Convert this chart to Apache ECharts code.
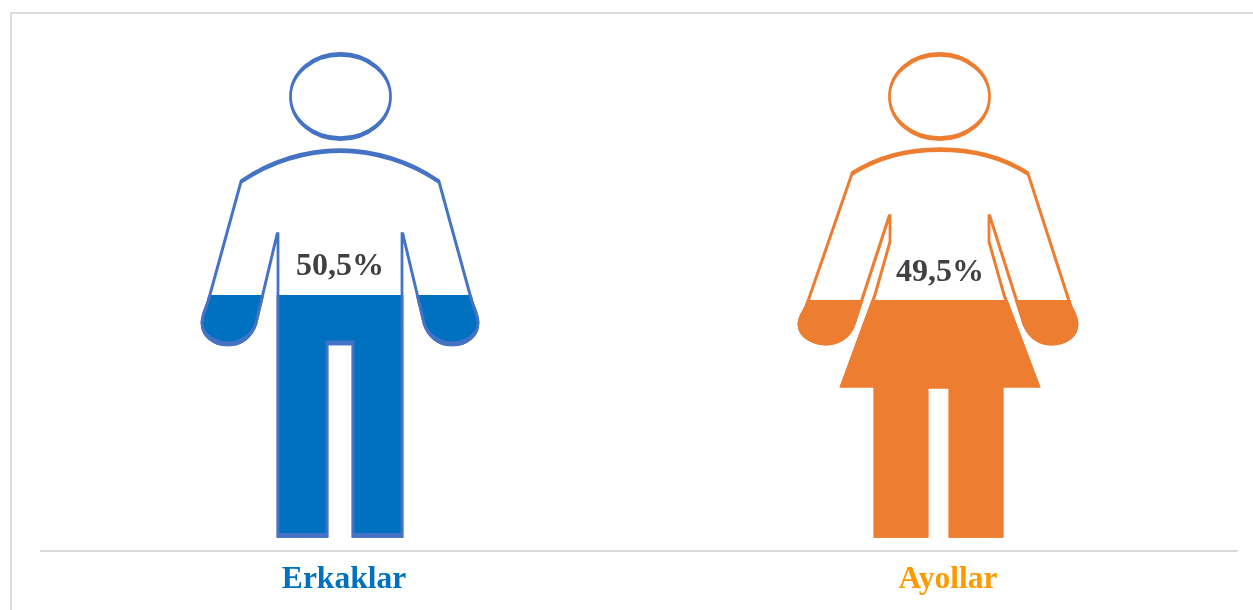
<!DOCTYPE html>
<html>
<head>
<meta charset="utf-8">
<style>
  html, body { margin: 0; padding: 0; background: #fff; }
  #main { width: 1253px; height: 610px; }
</style>
<script src="https://cdn.jsdelivr.net/npm/echarts@6/dist/echarts.min.js"></script>
</head>
<body>
<div id="main"></div>
<script>
var categories = ['Erkaklar', 'Ayollar'];
var shareValues = [50.5, 49.5];
var fullValue = 100;
var shareLabels = ['50,5%', '49,5%'];

var manPath = 'path://M340.5 58C368 58 390.5 76.5 390.5 100C390.5 123.5 368 142 340.5 142C313 142 290.5 123.5 290.5 100C290.5 76.5 313 58 340.5 58Z' +
  'M340 154C375 154 410 165 439 185L472 305C475 314 478 319 478 326C478 338 466 347 452 347C438 347 428 338 424 326L403 238L402 238L402 538L353 538L353 346L327 346L327 538L278 538L278 238L277 238L256 326C252 338 242 347 228 347C214 347 202 338 202 326C202 319 205 314 208 305L241 185C270 165 305 154 340 154Z';

var womanPath = 'path://M939.5 58C967 58 989.5 76.5 989.5 100C989.5 123.5 967 142 939.5 142C912 142 889.5 123.5 889.5 100C889.5 76.5 912 58 939.5 58Z' +
  'M940 153C975 153 1005 162 1028 177L1071 310C1074 317 1077 321 1077 327C1077 338 1066 346 1052 346C1038 346 1029 338 1024 327L990 220L989 220L989 245L1004 298L1038 388L1002 388L1002 538L950 538L950 389L927 389L927 538L875 538L875 388L842 388L875 298L890 245L890 220L889 220L854 327C850 338 840 346 826 346C812 346 799 338 799 327C799 321 803 317 806 310L852 177C875 162 905 153 940 153Z';

var symbols = [manPath, womanPath];
var symbolWidths = [276, 278];
var fillColors = ['#0070C0', '#ED7D31'];
var outlineColors = ['#4472C4', '#ED7D31'];
var labelColors = ['#0070C0', '#FF9900'];
var labelPads = [[0, 0, 0, 8], [0, 0, 0, 20]];
var shareOffsets = [[0, -28], [2, -22]];

var chart = echarts.init(document.getElementById('main'));

var outlineData = [];
var fillData = [];
var axisData = [];
for (var i = 0; i < categories.length; i++) {
  outlineData.push({
    value: fullValue,
    symbol: symbols[i],
    symbolSize: [symbolWidths[i], '100%'],
    itemStyle: { color: '#fff', borderColor: outlineColors[i], borderWidth: 4 }
  });
  fillData.push({
    value: shareValues[i],
    symbol: symbols[i],
    symbolSize: [symbolWidths[i], '100%'],
    itemStyle: { color: fillColors[i], borderColor: outlineColors[i], borderWidth: 4 },
    label: { formatter: shareLabels[i], offset: shareOffsets[i] }
  });
  axisData.push({
    value: categories[i],
    textStyle: { color: labelColors[i], padding: labelPads[i] }
  });
}

chart.setOption({
  animation: false,
  backgroundColor: '#fff',
  graphic: [{
    type: 'polyline',
    silent: true,
    shape: { points: [[11, 610], [11, 13], [1253, 13]] },
    style: { stroke: '#DEDEDE', lineWidth: 2, fill: null }
  }],
  grid: { left: 41, right: 16, top: 57, bottom: 59 },
  xAxis: {
    type: 'category',
    data: axisData,
    axisLine: { onZero: false, lineStyle: { color: '#D9D9D9', width: 2 } },
    axisTick: { show: false },
    axisLabel: {
      margin: 13,
      fontFamily: 'Liberation Serif',
      fontWeight: 'bold',
      fontSize: 31.5
    }
  },
  yAxis: {
    type: 'value',
    min: -2.7,
    max: fullValue,
    show: false,
    splitLine: { show: false }
  },
  series: [{
    name: 'outline',
    type: 'pictorialBar',
    symbolBoundingData: fullValue,
    z: 2,
    data: outlineData
  }, {
    name: 'share',
    type: 'pictorialBar',
    symbolBoundingData: fullValue,
    symbolClip: true,
    z: 3,
    label: {
      show: true,
      position: 'inside',
      color: '#404040',
      fontFamily: 'Liberation Serif',
      fontWeight: 'bold',
      fontSize: 32
    },
    data: fillData
  }]
});
</script>
</body>
</html>
